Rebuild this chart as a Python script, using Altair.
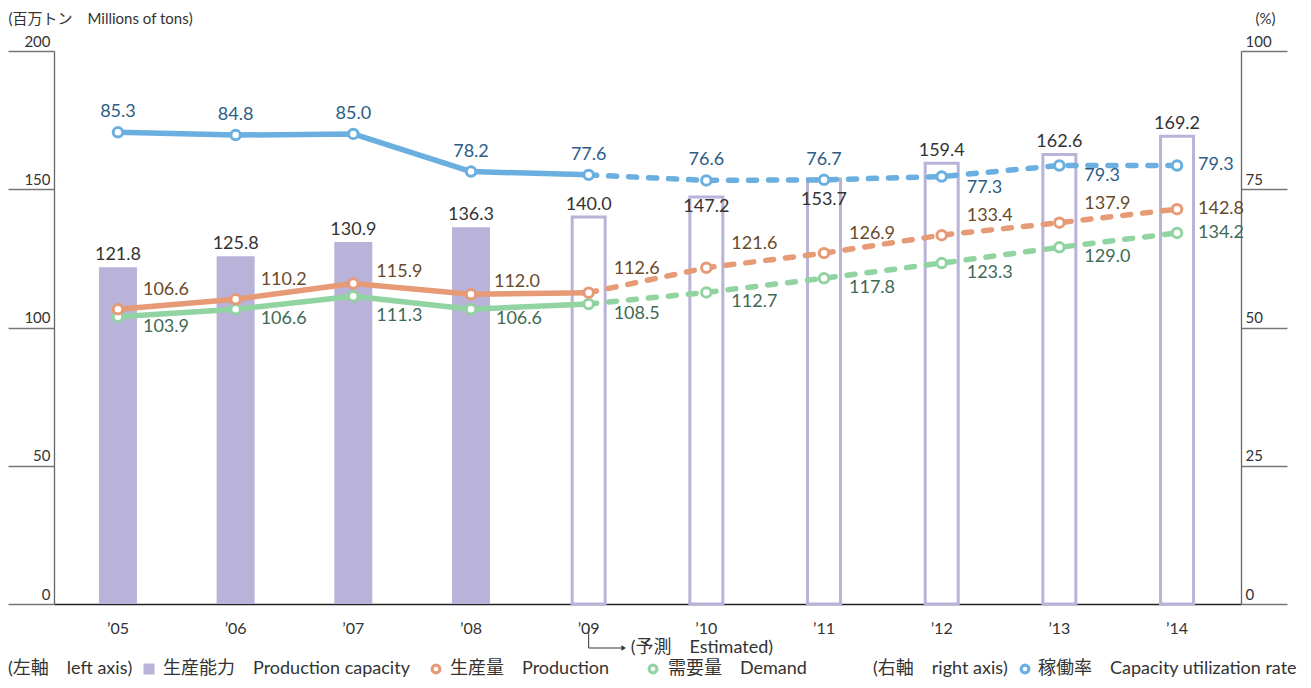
import altair as alt
import pandas as pd

# ---- data -------------------------------------------------------------
years = ["’05", "’06", "’07", "’08", "’09", "’10", "’11", "’12", "’13", "’14"]
capacity = [121.8, 125.8, 130.9, 136.3, 140.0, 147.2, 153.7, 159.4, 162.6, 169.2]
production = [106.6, 110.2, 115.9, 112.0, 112.6, 121.6, 126.9, 133.4, 137.9, 142.8]
demand = [103.9, 106.6, 111.3, 106.6, 108.5, 112.7, 117.8, 123.3, 129.0, 134.2]
utilization = [85.3, 84.8, 85.0, 78.2, 77.6, 76.6, 76.7, 77.3, 79.3, 79.3]

left_title = "(百万トン　Millions of tons)"
right_title = "(%)"
estimated_text = "(予測　Estimated)"
legend_texts = [
    "(左軸　left axis)",
    "生産能力　Production capacity",
    "生産量　Production",
    "需要量　Demand",
    "(右軸　right axis)",
    "稼働率　Capacity utilization rate",
]

df = pd.DataFrame({
    "year": years,
    "idx": list(range(len(years))),
    "capacity": capacity,
    "production": production,
    "demand": demand,
    "utilization": utilization,
})

# ---- styles -----------------------------------------------------------
FONT = "Lato, Noto Sans CJK JP, sans-serif"
C_BAR = "#b9b2d9"
C_PROD = "#e69a75"
C_DEM = "#91d3a1"
C_UTIL = "#6aafe0"
L_PROD = "#6b4a2c"
L_DEM = "#3e6a55"
L_UTIL = "#2c5d85"
L_BAR = "#333333"
LBL = 18

base = alt.Chart(df)
X_SCALE = alt.Scale(paddingInner=0.673, paddingOuter=0.38)
X_AXIS = alt.Axis(title=None, ticks=False, grid=False, domainColor="#222", domainWidth=1.5,
                  labelFont=FONT, labelFontSize=16, labelColor="#333",
                  labelPadding=16, labelAngle=0)
X = alt.X("year:N", sort=years, scale=X_SCALE, axis=X_AXIS)
X09 = alt.X(datum=years[4], type="nominal", scale=X_SCALE, axis=X_AXIS)
X09_2 = alt.X2(datum=years[4])

YL_scale = alt.Scale(domain=[0, 200], nice=False)
YR_scale = alt.Scale(domain=[0, 100], nice=False)

left_axis = alt.Axis(values=[0, 50, 100, 150, 200], grid=False, tickSize=46, orient="left",
                     tickColor="#777", tickWidth=1.3, domainColor="#666", domainWidth=1.3,
                     labelAlign="right", labelBaseline="bottom", labelPadding=-42,
                     labelFont=FONT, labelFontSize=15, labelColor="#333", labelOffset=-2,
                     title=left_title, titleAngle=0, titleAlign="left", titleBaseline="middle",
                     titleX=-46, titleY=-33, titleFont=FONT, titleFontSize=15,
                     titleFontWeight="normal", titleColor="#333")
right_axis = alt.Axis(values=[0, 25, 50, 75, 100], grid=False, tickSize=46, orient="right",
                      tickColor="#777", tickWidth=1.3, domainColor="#666", domainWidth=1.3,
                      labelAlign="left", labelBaseline="bottom", labelPadding=-42,
                      labelFont=FONT, labelFontSize=15, labelColor="#333", labelOffset=-2,
                      title=right_title, titleAngle=0, titleAlign="left", titleBaseline="middle",
                      titleX=14, titleY=-33, titleFont=FONT, titleFontSize=15,
                      titleFontWeight="normal", titleColor="#333")


def yl(field):
    return alt.Y(f"{field}:Q", scale=YL_scale, axis=left_axis)


def yr(field):
    return alt.Y(f"{field}:Q", scale=YR_scale, axis=right_axis)


solid = alt.datum.idx <= 4
dashed = alt.datum.idx >= 4


def in_years(lst):
    return alt.FieldOneOfPredicate(field="year", oneOf=lst)


# bars
bars_actual = base.transform_filter(alt.datum.idx <= 3).mark_bar(width=38, color=C_BAR).encode(
    x=X, y=yl("capacity"))
bars_est = base.transform_filter(alt.datum.idx >= 4).mark_bar(
    width=33, fill="white", stroke=C_BAR, strokeWidth=3).encode(x=X, y=yl("capacity"))


def series_layers(field, color, yfun):
    s = base.transform_filter(solid).mark_line(color=color, strokeWidth=5.5, strokeCap="round",
                                               strokeJoin="round").encode(x=X, y=yfun(field))
    d = base.transform_filter(dashed).mark_line(color=color, strokeWidth=5.5, strokeCap="round",
                                                strokeDash=[8, 12]).encode(x=X, y=yfun(field))
    p = base.mark_point(shape="circle", filled=True, fill="white", stroke=color, strokeWidth=3,
                        size=90, opacity=1).encode(x=X, y=yfun(field))
    return [s, d, p]


def label(field, yfun, color, sel, align, dx, dy):
    return base.transform_filter(in_years(sel)).mark_text(
        align=align, baseline="middle", dx=dx, dy=dy, font=FONT, fontSize=LBL, color=color
    ).encode(x=X, y=yfun(field), text=alt.Text(f"{field}:Q", format=".1f"))


Y_ = years
bar_labels = [
    label("capacity", yl, L_BAR, [Y_[i] for i in [0, 1, 2, 3, 4, 7, 8, 9]], "center", 0, -12),
    label("capacity", yl, L_BAR, [Y_[5]], "center", 0, 10),
    label("capacity", yl, L_BAR, [Y_[6]], "center", 0, 21),
]
prod_labels = [
    label("production", yl, L_PROD, [Y_[i] for i in [0, 1, 6, 7, 8]], "left", 25, -19),
    label("production", yl, L_PROD, [Y_[i] for i in [2, 3]], "left", 23, -12),
    label("production", yl, L_PROD, [Y_[i] for i in [4, 5]], "left", 25, -24),
    label("production", yl, L_PROD, [Y_[9]], "left", 21, 0),
]
dem_labels = [
    label("demand", yl, L_DEM, [Y_[i] for i in [0, 1, 3, 4, 5, 6, 7, 8]], "left", 25, 10),
    label("demand", yl, L_DEM, [Y_[2]], "left", 23, 20),
    label("demand", yl, L_DEM, [Y_[9]], "left", 21, 0),
]
util_labels = [
    label("utilization", yr, L_UTIL, Y_[:7], "center", 0, -20),
    label("utilization", yr, L_UTIL, Y_[7:9], "left", 25, 11),
    label("utilization", yr, L_UTIL, [Y_[9]], "left", 21, 0),
]

NOVIEW = alt.ViewBackground(stroke="transparent", strokeWidth=0, strokeOpacity=0)

left_layer = alt.layer(
    bars_actual, bars_est,
    *series_layers("demand", C_DEM, yl),
    *series_layers("production", C_PROD, yl),
    *bar_labels, *prod_labels, *dem_labels,
)
right_layer = alt.layer(
    *series_layers("utilization", C_UTIL, yr),
    *util_labels,
)

# ---- annotation "estimated" ----------------------------------------
AY = 597
one = pd.DataFrame({"t": [estimated_text]})
ann_base = alt.Chart(one)
ann_v = ann_base.mark_rule(color="#333", strokeWidth=1).encode(
    x=X09, y=alt.value(577), y2=alt.value(AY))
ann_h = ann_base.mark_rule(color="#333", strokeWidth=1, x2Offset=33).encode(
    x=X09, x2=X09_2, y=alt.value(AY))
ann_arrow = ann_base.mark_point(shape="triangle-right", filled=True, size=28, color="#333",
                                xOffset=35, opacity=1).encode(
    x=X09, y=alt.value(AY))
ann_text = ann_base.mark_text(align="left", baseline="middle", dx=42, font=FONT, fontSize=18,
                              color="#333").encode(
    x=X09, y=alt.value(AY), text="t:N")

# ---- legend (drawn manually) ----------------------------------------
leg_df = pd.DataFrame({"t": [0]})
leg = alt.Chart(leg_df)
LY = 618


def leg_text(txt, x):
    return leg.mark_text(align="left", baseline="middle", font=FONT, fontSize=18,
                         color="#333", text=txt).encode(x=alt.value(x), y=alt.value(LY))


def leg_ring(color, x):
    return leg.mark_point(shape="circle", filled=True, fill="white", stroke=color,
                          strokeWidth=3.2, size=60, opacity=1).encode(x=alt.value(x), y=alt.value(LY))


legend_layers = [
    leg_text(legend_texts[0], -46),
    leg.mark_square(color=C_BAR, size=120, opacity=1).encode(x=alt.value(95), y=alt.value(LY)),
    leg_text(legend_texts[1], 109),
    leg_ring(C_PROD, 382),
    leg_text(legend_texts[2], 396),
    leg_ring(C_DEM, 599),
    leg_text(legend_texts[3], 614),
    leg_text(legend_texts[4], 819),
    leg_ring(C_UTIL, 971),
    leg_text(legend_texts[5], 984),
]

chart = alt.layer(
    left_layer, right_layer, ann_v, ann_h, ann_arrow, ann_text, *legend_layers
).resolve_scale(y="independent").properties(
    width=1187, height=553,
    padding={"left": 46, "top": 43, "right": 62, "bottom": 76},
    autosize=alt.AutoSizeParams(type="none"),
    background="white",
    view=NOVIEW,
).configure_view(
    stroke="transparent", strokeWidth=0, strokeOpacity=0
).configure_axis(grid=False)

chart.save("out.html", embed_options={"renderer": "svg", "actions": False})
